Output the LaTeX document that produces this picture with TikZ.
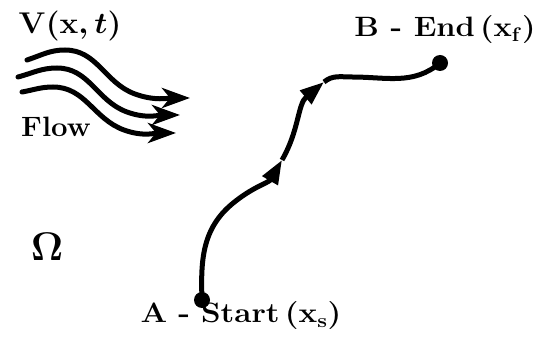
\RequirePackage{fix-cm}
\documentclass[tikz,border=0pt]{standalone}
\usepackage{graphicx}
\usetikzlibrary{arrows.meta}
\begin{document}
\begin{tikzpicture}[x=1pt,y=1pt,
  lbl/.style={font=\fontsize{28}{32}\selectfont\bfseries\boldmath, inner sep=0pt},
  pathline/.style={line width=5pt},
  dot/.style={circle, fill=black, inner sep=0pt, minimum size=16pt},
  flowline/.style={line width=5pt, line cap=round, -{Stealth[length=28pt,width=20pt,inset=8pt]}},
  midarrow/.style={-{Triangle[length=24pt,width=17pt]}}]
\useasboundingbox (0,0) rectangle (540,348);
% labels
\node[lbl, font=\fontsize{30}{34}\selectfont\bfseries\boldmath] (V) at (70,322) {\scalebox{1.05}[1]{$\mathbf{V}(\mathbf{x},t)$}};
\node[lbl] (flowlbl) at (56,221) {\scalebox{1.05}[1]{Flow}};
\node[font=\fontsize{40}{44}\selectfont\boldmath, inner sep=0pt] (Om) at (47,101) {$\Omega$};
\node[lbl] (Alabel) at (241,32) {\scalebox{1.12}[1]{A\hspace{0.35em}-\hspace{0.35em}Start\,($\mathbf{x}_{\mathbf{s}}$)}};
\node[lbl] (Blabel) at (445,318) {\scalebox{1.1}[1]{B - End\,($\mathbf{x}_{\mathbf{f}}$)}};
% end points
\node[dot] (A) at (202,48) {};
\node[dot] (B) at (440,285) {};
% trajectory
\coordinate (c1) at (232,144);
\coordinate (m1) at (282,188);
\coordinate (m2) at (324,266);
\coordinate (c2) at (352,271);
\draw[pathline, midarrow] (A.center) to[out=92,in=220] (c1) to[out=40,in=240] (m1);
\draw[pathline, midarrow] (m1) to[out=60,in=220] (m2);
\draw[pathline] (m2) to[out=40,in=180] (c2) to[out=0,in=220] (B.center);
% flow lines
\coordinate (f1s) at (27,288);
\coordinate (f1p) at (65,298);
\coordinate (f1m) at (135,254);
\coordinate (f1t) at (190,250);
\coordinate (f2s) at (18,271);
\coordinate (f2p) at (57,280);
\coordinate (f2m) at (127,236);
\coordinate (f2t) at (180,233);
\coordinate (f3s) at (22,256);
\coordinate (f3p) at (53,261);
\coordinate (f3m) at (124,218);
\coordinate (f3t) at (176,215);
\draw[flowline] (f1s) to[out=18,in=180] (f1p) to[out=0,in=160] (f1m) to[out=-20,in=180] (f1t);
\draw[flowline] (f2s) to[out=15,in=180] (f2p) to[out=0,in=160] (f2m) to[out=-20,in=180] (f2t);
\draw[flowline] (f3s) to[out=10,in=180] (f3p) to[out=0,in=160] (f3m) to[out=-20,in=180] (f3t);
\end{tikzpicture}
\end{document}
